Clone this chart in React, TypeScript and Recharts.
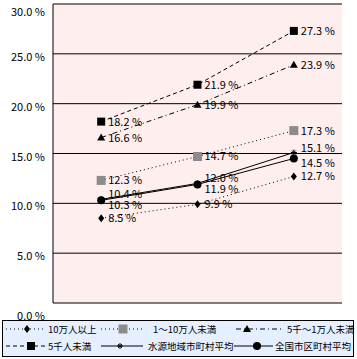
import React from 'react';
import { LineChart, Line, XAxis, YAxis, CartesianGrid, LabelList } from 'recharts';

// three survey periods, x axis has no labels in the source
const periods = ['1', '2', '3'];

const over100k = [8.5, 9.9, 12.7];
const from10kTo100k = [12.3, 14.7, 17.3];
const from5kTo10k = [16.6, 19.9, 23.9];
const under5k = [18.2, 21.9, 27.3];
const headwaterAvg = [10.4, 12.0, 15.1];
const nationalAvg = [10.3, 11.9, 14.5];

const yTicks = [0, 5, 10, 15, 20, 25, 30];
const xTicks = [0, 1, 2, 3];

const FONT = '"Noto Sans CJK JP", "Noto Sans", sans-serif';

type Marker = 'diamond' | 'graySquare' | 'triangle' | 'square' | 'star' | 'circle';

const seriesList: { key: string; name: string; values: number[]; dash?: string; marker: Marker; labelDy: number }[] = [
  { key: 'a', name: '10万人以上', values: over100k, dash: '1 3', marker: 'diamond', labelDy: 0 },
  { key: 'b', name: '1〜10万人未満', values: from10kTo100k, dash: '1 3', marker: 'graySquare', labelDy: 0 },
  { key: 'c', name: '5千〜1万人未満', values: from5kTo10k, dash: '5 3 1 3', marker: 'triangle', labelDy: 0 },
  { key: 'd', name: '5千人未満', values: under5k, dash: '4 3', marker: 'square', labelDy: 0 },
  { key: 'e', name: '水源地域市町村平均', values: headwaterAvg, marker: 'star', labelDy: -5 },
  { key: 'f', name: '全国市区町村平均', values: nationalAvg, marker: 'circle', labelDy: 5 },
];

// legend item placement: [symbol left, symbol right, marker x, text left, top]
const legendPos: Record<string, number[]> = {
  a: [3, 42, 24, 45, 2],
  b: [98, 140, 120, 150, 2],
  c: [233, 280, 244, 284, 2],
  d: [3, 42, 28, 45, 19],
  e: [98, 140, 117, 145, 19],
  f: [231, 270, 254, 272, 19],
};

const data = periods.map((p, i) => {
  const row: any = { period: p, x: i + 0.5 };
  seriesList.forEach(s => {
    row[s.key] = s.values[i];
  });
  return row;
});

function drawMarker(marker: Marker, cx: number, cy: number, key?: any) {
  switch (marker) {
    case 'diamond':
      return <polygon key={key} points={`${cx},${cy - 4} ${cx + 3},${cy} ${cx},${cy + 4} ${cx - 3},${cy}`} fill="#000" />;
    case 'graySquare':
      return <rect key={key} x={cx - 4.5} y={cy - 4.5} width={9} height={9} fill="#8c8c8c" />;
    case 'triangle':
      return <polygon key={key} points={`${cx},${cy - 4} ${cx + 4},${cy + 3} ${cx - 4},${cy + 3}`} fill="#000" />;
    case 'square':
      return <rect key={key} x={cx - 4} y={cy - 4} width={8} height={8} fill="#000" />;
    case 'star':
      return (
        <g key={key} stroke="#000" strokeWidth={1}>
          <line x1={cx - 3} y1={cy} x2={cx + 3} y2={cy} />
          <line x1={cx} y1={cy - 3} x2={cx} y2={cy + 3} />
          <line x1={cx - 2} y1={cy - 2} x2={cx + 2} y2={cy + 2} />
          <line x1={cx - 2} y1={cy + 2} x2={cx + 2} y2={cy - 2} />
        </g>
      );
    default:
      return <circle key={key} cx={cx} cy={cy} r={4} fill="#000" />;
  }
}

const makeLabel = (dy: number) => (props: any) => {
  const { x, y, value } = props;
  return (
    <text x={x + 7} y={y + dy + 4} fontSize={11} fontFamily={FONT} fill="#000">
      {value.toFixed(1)} %
    </text>
  );
};

const YTick = (props: any) => {
  const { x, y, payload } = props;
  // the 0.0 label sits lower than the others in the original
  const dy = payload.value === 0 ? 17 : 7;
  return (
    <text x={x} y={y + dy} textAnchor="end" fontSize={11} fontFamily={FONT} fill="#000">
      {payload.value.toFixed(1)} %
    </text>
  );
};

const LegendBox = () => (
  <div
    style={{
      position: 'absolute',
      left: 2,
      top: 320,
      width: 350,
      height: 35,
      border: '1px solid #000',
      background: '#e6efff',
      fontFamily: FONT,
      fontSize: 9.5,
    }}
  >
    {seriesList.map(s => {
      const [x1, x2, mx, tx, top] = legendPos[s.key];
      return (
        <React.Fragment key={s.key}>
          <svg width={x2 - x1} height={12} style={{ position: 'absolute', left: x1, top }}>
            <line x1={0} y1={6} x2={x2 - x1} y2={6} stroke="#000" strokeDasharray={s.dash} />
            {drawMarker(s.marker, mx - x1, 6)}
          </svg>
          <span style={{ position: 'absolute', left: tx, top: top - 1, lineHeight: '14px', whiteSpace: 'nowrap' }}>
            {s.name}
          </span>
        </React.Fragment>
      );
    })}
  </div>
);

export default function App() {
  return (
    <div style={{ position: 'absolute', left: 0, top: 0, width: 357, height: 359, background: '#fff' }}>
      <LineChart width={357} height={359} data={data} margin={{ top: 4, right: 15, left: 0, bottom: 56 }}>
        <CartesianGrid vertical={false} stroke="#000" fill="#ffeeee" fillOpacity={1} />
        <XAxis
          type="number"
          dataKey="x"
          domain={[0, 3]}
          ticks={xTicks}
          tickFormatter={() => ''}
          tickSize={-4}
          axisLine={{ stroke: '#000' }}
          tickLine={{ stroke: '#000' }}
          height={0}
        />
        <YAxis
          domain={[0, 30]}
          ticks={yTicks}
          width={53}
          tickLine={false}
          axisLine={{ stroke: '#000' }}
          tick={<YTick />}
        />
        <YAxis yAxisId="right" orientation="right" width={0} tick={false} axisLine={{ stroke: '#000' }} />
        {seriesList.map(s => (
          <Line
            key={s.key}
            dataKey={s.key}
            name={s.name}
            stroke="#000"
            strokeWidth={1}
            strokeDasharray={s.dash}
            isAnimationActive={false}
            dot={(p: any) => drawMarker(s.marker, p.cx, p.cy, p.index)}
            activeDot={false}
          >
            <LabelList dataKey={s.key} content={makeLabel(s.labelDy)} />
          </Line>
        ))}
      </LineChart>
      <LegendBox />
    </div>
  );
}
